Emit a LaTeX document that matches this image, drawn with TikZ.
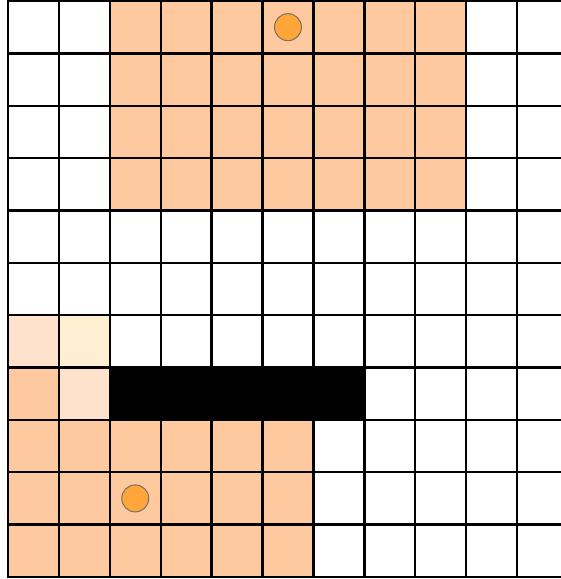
\documentclass[tikz,border=0pt]{standalone}
\definecolor{peach}{HTML}{FFC9A0}
\definecolor{lightpeach}{HTML}{FFE2CC}
\definecolor{lightyellow}{HTML}{FFEFD2}
\definecolor{dot}{HTML}{FFA63A}
\definecolor{dotborder}{HTML}{7A7066}
\begin{document}
\begin{tikzpicture}[x=1pt,y=-1pt,
  gridline/.style={black,line width=2.4pt},
  agent/.style={circle,fill=dot,draw=dotborder,line width=1pt,minimum size=27pt,inner sep=0pt}]
\def\cw{50.9}\def\ch{52.36}\def\ox{8}\def\oy{1}
\useasboundingbox (0,0) rectangle (561,579);
\fill[white] (0,0) rectangle (561,579);
% top region
\fill[peach] ({\ox+2*\cw},{\oy}) rectangle ({\ox+9*\cw},{\oy+4*\ch});
% bottom-left region
\fill[peach] ({\ox},{\oy+8*\ch}) rectangle ({\ox+6*\cw},{\oy+11*\ch});
\fill[peach] ({\ox},{\oy+7*\ch}) rectangle ({\ox+\cw},{\oy+8*\ch});
\fill[lightpeach] ({\ox+\cw},{\oy+7*\ch}) rectangle ({\ox+2*\cw},{\oy+8*\ch});
\fill[lightpeach] ({\ox},{\oy+6*\ch}) rectangle ({\ox+\cw},{\oy+7*\ch});
\fill[lightyellow] ({\ox+\cw},{\oy+6*\ch}) rectangle ({\ox+2*\cw},{\oy+7*\ch});
% wall
\fill[black] ({\ox+2*\cw},{\oy+7*\ch}) rectangle ({\ox+7*\cw},{\oy+8*\ch});
% grid lines
\foreach \i in {0,...,11}
  \draw[gridline] ({\ox-1.2},{\oy+\i*\ch}) -- (561,{\oy+\i*\ch});
\foreach \i in {0,...,10}
  \draw[gridline] ({\ox+\i*\cw},{\oy}) -- ({\ox+\i*\cw},{\oy+11*\ch});
% agents
\node[agent] (a1) at ({\ox+5.5*\cw},{\oy+0.5*\ch}) {};
\node[agent] (a2) at ({\ox+2.5*\cw},{\oy+9.5*\ch}) {};
\end{tikzpicture}
\end{document}
